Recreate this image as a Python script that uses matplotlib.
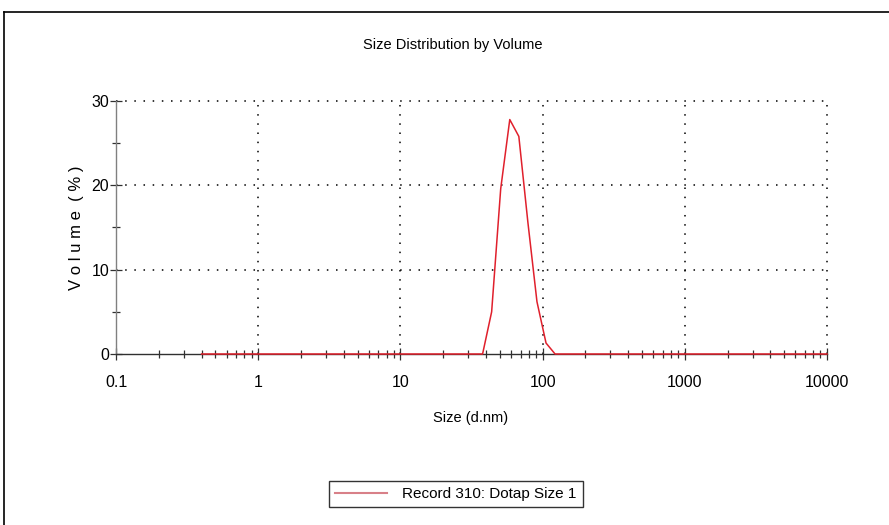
import matplotlib
matplotlib.use("Agg")
import matplotlib.pyplot as plt
from matplotlib.lines import Line2D
from matplotlib.ticker import LogLocator, FixedLocator, NullFormatter

plt.rcParams['font.family'] = ['Liberation Sans', 'DejaVu Sans']

# Data (size bins in d.nm, volume %)
sizes = [0.4, 37.84, 43.82, 50.75, 58.77, 68.06, 78.82, 91.28, 105.7, 122.4, 10000]
volume = [0.0, 0.0, 5.0, 19.6, 27.8, 25.8, 15.6, 6.2, 1.3, 0.0, 0.0]
series_label = "Record 310: Dotap Size 1"
title = "Size Distribution by Volume"
x_ticks = [0.1, 1, 10, 100, 1000, 10000]
x_ticklabels = ["0.1", "1", "10", "100", "1000", "10000"]
y_ticks = [0, 10, 20, 30]
y_minor = [5, 15, 25]

W, H = 889, 525
fig = plt.figure(figsize=(W / 100, H / 100), dpi=100)
fig.patch.set_facecolor('white')

left, right, top, bottom = 116, 827, 101, 354
ax = fig.add_axes([left / W, 1 - bottom / H, (right - left) / W, (bottom - top) / H])

line, = ax.plot(sizes, volume, color='#e0202c', lw=1.1, label=series_label,
                clip_on=False, zorder=5)
ax.set_xscale('log')
ax.set_xlim(0.1, 10000)
ax.set_ylim(0, 30)

ax.set_xticks(x_ticks)
ax.set_xticklabels(x_ticklabels)
ax.xaxis.set_minor_locator(LogLocator(base=10, subs=range(2, 10), numticks=20))
ax.xaxis.set_minor_formatter(NullFormatter())
ax.set_yticks(y_ticks)
ax.yaxis.set_minor_locator(FixedLocator(y_minor))

ax.tick_params(axis='both', which='major', direction='inout', length=8, width=0.9,
               color='#303030', labelsize=11.5, pad=4)
ax.tick_params(axis='both', which='minor', direction='inout', length=6, width=0.9,
               color='#303030')
ax.tick_params(axis='y', which='major', pad=1)
ax.tick_params(axis='x', which='major', pad=11)

for s in ['top', 'right']:
    ax.spines[s].set_visible(False)
ax.spines['left'].set_color('#808080')
ax.spines['bottom'].set_color('#303030')
ax.spines['left'].set_linewidth(1.0)
ax.spines['bottom'].set_linewidth(1.0)

# dotted grid
for xv in [1, 10, 100, 1000, 10000]:
    ax.axvline(xv, color='black', lw=1.1, ls=(0, (1, 5)), zorder=1, clip_on=False)
for yv in [10, 20, 30]:
    ax.axhline(yv, color='black', lw=1.1, ls=(0, (1, 5)), zorder=1, clip_on=False)

fig.text(453 / W, 1 - 45 / H, title, ha='center', va='center', fontsize=10.5)
fig.text(471 / W, 1 - 418 / H, "Size (d.nm)", ha='center', va='center', fontsize=10.5)
fig.text(76 / W, 1 - 228 / H, "V o l u m e  ( % )", ha='center', va='center',
         rotation=90, fontsize=12)

leg = fig.legend(handles=[line], labels=[series_label], loc='center',
                 bbox_to_anchor=(456 / W, 1 - 494 / H), frameon=True, fancybox=False,
                 fontsize=11, handlelength=3.4, handletextpad=1.0, borderpad=0.4,
                 borderaxespad=0, edgecolor='black')
leg.get_frame().set_linewidth(1.0)
leg.legend_handles[0].set_color('#d88088')
leg.legend_handles[0].set_linewidth(1.5)

# outer frame (top and left edges)
fig.add_artist(Line2D([4 / W, 1], [1 - 12 / H, 1 - 12 / H], transform=fig.transFigure,
                      color='black', lw=1.2))
fig.add_artist(Line2D([4 / W, 4 / W], [0, 1 - 12 / H], transform=fig.transFigure,
                      color='black', lw=1.2))

fig.savefig('out.png', dpi=100, facecolor='white')
